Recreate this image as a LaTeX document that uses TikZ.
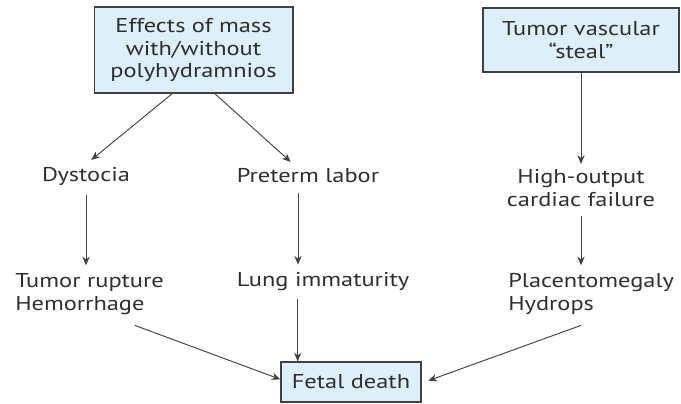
\documentclass[tikz,border=0pt]{standalone}
\usepackage{fontspec}
\setmainfont[FakeStretch=1.22]{PT Sans}
\usetikzlibrary{arrows.meta}
\definecolor{boxblue}{RGB}{221,239,248}
\definecolor{linegray}{RGB}{65,65,65}

\begin{document}
\begin{tikzpicture}[x=0.75pt,y=-0.75pt,
  font=\fontsize{15}{17}\selectfont, text=black!82,
  boite/.style={draw=linegray,fill=boxblue,align=center,line width=1pt},
  mot/.style={align=left,inner xsep=0pt,inner ysep=4pt},
  fleche/.style={draw=linegray,line width=0.7pt,-{Stealth[length=6.5pt,width=5.5pt]}}]
\useasboundingbox (0,0) rectangle (681,403);
% les boites
\node[boite,minimum width=149pt,minimum height=64.5pt] (masse) at (193.5,50) {Effects of mass\\with/without\\polyhydramnios};
\node[boite,minimum width=147pt,minimum height=48pt] (vol) at (581,40) {Tumor vascular\\``steal''};
\node[boite,minimum width=105pt,minimum height=30pt] (mort) at (351,382) {Fetal death};

% les textes
\node[mot] (dys) at (86,176) {Dystocia};
\node[mot] (pre) at (308,176) {Preterm labor};
\node[mot,align=center] (ins) at (581,188) {High-output\\cardiac failure};
\node[mot,anchor=west] (rup) at (15,294) {Tumor rupture\\Hemorrhage};
\node[mot] (pou) at (323,282) {Lung immaturity};
\node[mot,anchor=west] (pla) at (508,294) {Placentomegaly\\Hydrops};

% les fleches
\draw[fleche] ([xshift=-16pt]masse.south) -- ([xshift=4pt,yshift=1pt]dys.north);
\draw[fleche] ([xshift=16pt]masse.south) -- ([xshift=-13pt,yshift=1pt]pre.north);
\draw[fleche] (vol.south) -- (ins.north);
\draw[fleche] ([yshift=-3pt]dys.south) -- ([yshift=2pt]rup.north -| dys.south);
\draw[fleche] ([xshift=-7.5pt,yshift=-3pt]pre.south) -- ([xshift=-7.5pt,yshift=2pt]pou.north -| pre.south);
\draw[fleche] ([yshift=-3pt]ins.south) -- ([yshift=2pt]pla.north -| ins.south);
\draw[fleche] ([xshift=-19pt,yshift=-2pt]pou.south) -- ([xshift=-19pt]pou.south |- mort.north);
\draw[fleche] ([xshift=-22pt,yshift=-4pt]rup.south east) -- ([yshift=2pt]mort.west);
\draw[fleche] ([yshift=-4pt]pla.south -| ins.south) -- ([xshift=5pt,yshift=1pt]mort.east);
\end{tikzpicture}
\end{document}
